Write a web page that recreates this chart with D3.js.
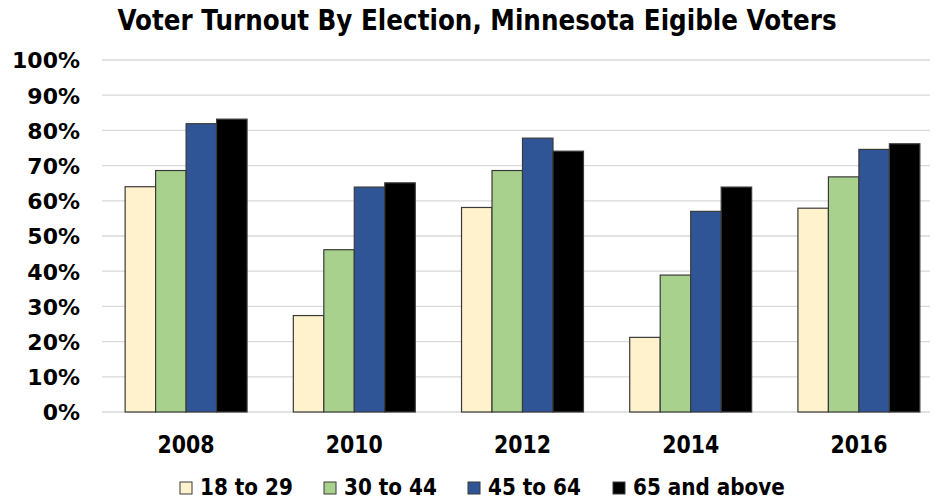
<!DOCTYPE html>
<html>
<head>
<meta charset="utf-8">
<script src="https://cdn.jsdelivr.net/npm/d3@7"></script>
<style>
  html, body { margin: 0; padding: 0; background: #fff; }
  text { font-family: "DejaVu Sans", Verdana, sans-serif; font-weight: bold; fill: #000; }
</style>
</head>
<body>
<svg id="chart" width="934" height="500"></svg>
<script>
const title = "Voter Turnout By Election, Minnesota Eigible Voters";
const years = ["2008", "2010", "2012", "2014", "2016"];
const seriesNames = ["18 to 29", "30 to 44", "45 to 64", "65 and above"];
const age18to29 = [64.0, 27.4, 58.1, 21.2, 57.9];
const age30to44 = [68.6, 46.1, 68.6, 38.9, 66.8];
const age45to64 = [81.9, 63.9, 77.8, 57.0, 74.6];
const age65plus = [83.2, 65.1, 74.1, 63.9, 76.2];
const yTicks = [0, 10, 20, 30, 40, 50, 60, 70, 80, 90, 100];
const colors = ["#FFF2CC", "#A9D18E", "#2F5597", "#000000"];

const seriesValues = [age18to29, age30to44, age45to64, age65plus];

const svg = d3.select("#chart");

const plotLeft = 102, plotRight = 930, plotTop = 60, plotBottom = 412;

const y = d3.scaleLinear().domain([0, 100]).range([plotBottom, plotTop]);
const x = d3.scaleBand().domain(years).range([102, 943]).paddingInner(0.275).paddingOuter(0.1375);
const xs = d3.scaleBand().domain(seriesNames).range([0, x.bandwidth()]);

// gridlines
svg.append("g").selectAll("line").data(yTicks).join("line")
  .attr("x1", plotLeft).attr("x2", plotRight)
  .attr("y1", d => y(d)).attr("y2", d => y(d))
  .attr("stroke", "#d9d9d9").attr("stroke-width", 1.3);

// bars
const groups = svg.append("g").selectAll("g").data(years).join("g")
  .attr("transform", d => `translate(${x(d)},0)`);
groups.selectAll("rect")
  .data((d, i) => seriesNames.map((s, j) => ({ s, j, v: seriesValues[j][i] })))
  .join("rect")
  .attr("x", d => xs(d.s))
  .attr("width", xs.bandwidth())
  .attr("y", d => y(d.v))
  .attr("height", d => y(0) - y(d.v))
  .attr("fill", d => colors[d.j])
  .attr("stroke", "#3a3a3a").attr("stroke-width", 1.2);

// y axis labels
const yAxis = d3.axisLeft(y).tickValues(yTicks).tickFormat(d => d + "%").tickSize(0).tickPadding(0);
const ya = svg.append("g").attr("transform", "translate(80,0)").call(yAxis);
ya.select(".domain").remove();
ya.selectAll("text").style("font-family", "DejaVu Sans, Verdana, sans-serif")
  .style("font-weight", "bold").style("font-size", "22px").attr("fill", "#000")
  .attr("dy", "0.36em");

// x axis labels
const xAxis = d3.axisBottom(x).tickSize(0).tickPadding(0);
const xa = svg.append("g").attr("transform", "translate(0,0)").call(xAxis);
xa.select(".domain").remove();
xa.selectAll(".tick text").remove();
xa.selectAll(".tick").append("text")
  .attr("transform", "translate(0,453) scale(1,1.2)")
  .attr("text-anchor", "middle")
  .style("font-size", "20.5px")
  .text(d => d);

// title
const t = svg.append("text")
  .attr("text-anchor", "middle")
  .attr("transform", "translate(477,30) scale(1,1.18)")
  .style("font-size", "22px")
  .text(title);
const tw = t.node().getComputedTextLength();
t.style("font-size", (22 * 719 / tw).toFixed(2) + "px");

// legend
const legendSwatchX = [180, 324, 468, 613];
const leg = svg.append("g");
seriesNames.forEach((s, j) => {
  leg.append("rect")
    .attr("x", legendSwatchX[j]).attr("y", 482).attr("width", 12).attr("height", 12)
    .attr("fill", colors[j]).attr("stroke", "#3a3a3a").attr("stroke-width", 1);
  leg.append("text")
    .attr("transform", `translate(${legendSwatchX[j] + 20},495) scale(1,1.15)`)
    .style("font-size", "20px")
    .text(s);
});
</script>
</body>
</html>
